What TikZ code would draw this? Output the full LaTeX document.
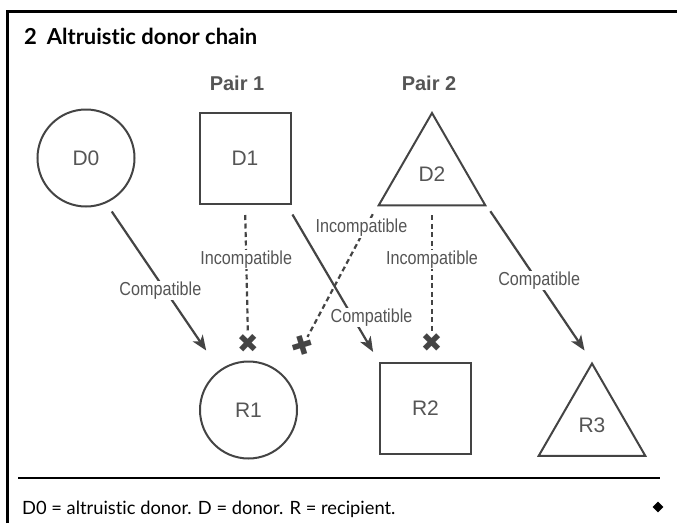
\documentclass[tikz,border=0pt]{standalone}
\usepackage{fontspec}
\setmainfont{Liberation Sans}
\newfontfamily\titlefont[Ligatures={NoCommon,NoRare,NoDiscretionary}]{Lato}
\newfontfamily\condfont[FakeStretch=0.86]{Liberation Sans}
\newfontfamily\symfont{DejaVu Sans}
\usetikzlibrary{shapes.geometric,arrows.meta}
\definecolor{ink}{HTML}{444444}
\definecolor{txt}{HTML}{555555}
\tikzset{
  shp/.style={draw=ink, line width=2pt, text=txt, inner sep=0pt, font=\fontsize{21}{24}\selectfont},
  circ/.style={shp, circle, minimum size=97pt},
  sq/.style={shp, rectangle, minimum size=91pt},
  tri/.style={shp, regular polygon, regular polygon sides=3, minimum size=123pt},
  conn/.style={draw=ink, line width=2.2pt},
  arr/.style={conn, -{Stealth[length=15pt,width=12pt,inset=4pt]}},
  dots/.style={conn, dash pattern=on 5pt off 3.5pt},
  lbl/.style={fill=white, text=txt, inner sep=1pt, font=\condfont\fontsize{18.8}{21}\selectfont},
  xmark/.style={text=ink, inner sep=0pt, sloped, font=\symfont\fontsize{26}{26}\selectfont},
  pairlbl/.style={text=txt, inner sep=0pt, anchor=base, font=\bfseries\fontsize{20}{22}\selectfont}
}
\begin{document}
\begin{tikzpicture}[x=1pt,y=-1pt]
\useasboundingbox (0,0) rectangle (677,523);
% frame
\draw[line width=2.5pt] (7.3,523) -- (7.3,11.7) -- (677,11.7);
\node[anchor=base west, inner sep=0pt, font=\titlefont\bfseries\fontsize{22}{25}\selectfont] (title) at (24,44) {2\hspace{0.45em}Altruistic donor chain};
\node[pairlbl] (p1) at (237,90) {Pair 1};
\node[pairlbl] (p2) at (429,90) {Pair 2};
% shapes
\node[circ] (D0) at (86,158) {D0};
\node[sq] (D1) at (245,158.5) {D1};
\node[tri] (D2) at (432,174.5) {D2};
\node[circ] (R1) at (248.5,410) {R1};
\node[sq] (R2) at (425.5,408.5) {R2};
\node[tri] (R3) at (592,425) {R3};
% incompatible (dotted)
\draw[dots, shorten <=10pt, shorten >=28pt] (D1.south) -- (R1.north)
  node[xmark, pos=0.889] {✖} node[lbl, pos=0.35] {Incompatible};
\draw[dots, shorten <=9pt, shorten >=30pt] (D2.south) -- (D2.south |- R2.north)
  node[xmark, pos=0.873] {✖} node[lbl, pos=0.342] {Incompatible};
\draw[dots, shorten <=9pt, shorten >=46pt] (D2.corner 2) -- (R1.41.5)
  node[xmark, pos=0.816] {✖} node[lbl, pos=0.127, xshift=-4pt] {Incompatible};
% compatible (solid arrows)
\draw[arr, shorten <=10pt, shorten >=23.5pt] (D0.-66) -- (R1.126)
  node[lbl, pos=0.523, xshift=-5pt] {Compatible};
\draw[arr, shorten <=11pt, shorten >=11.7pt] (D1.-48) -- (R2.north west)
  node[lbl, pos=0.717, xshift=18.6pt] {Compatible};
\draw[arr, shorten <=6pt, shorten >=13.3pt] (D2.corner 3) -- (R3.corner 1)
  node[lbl, pos=0.478, xshift=2pt] {Compatible};
% footer
\draw[line width=2pt] (18,478) -- (660,478);
\node[anchor=base west, inner sep=0pt, font=\titlefont\fontsize{18.3}{21}\selectfont] (foot) at (22,514) {D0 = altruistic donor. D = donor. R = recipient.};
\node[diamond, fill=black, inner sep=0pt, minimum size=11pt] (dia) at (658,507) {};
\end{tikzpicture}
\end{document}
